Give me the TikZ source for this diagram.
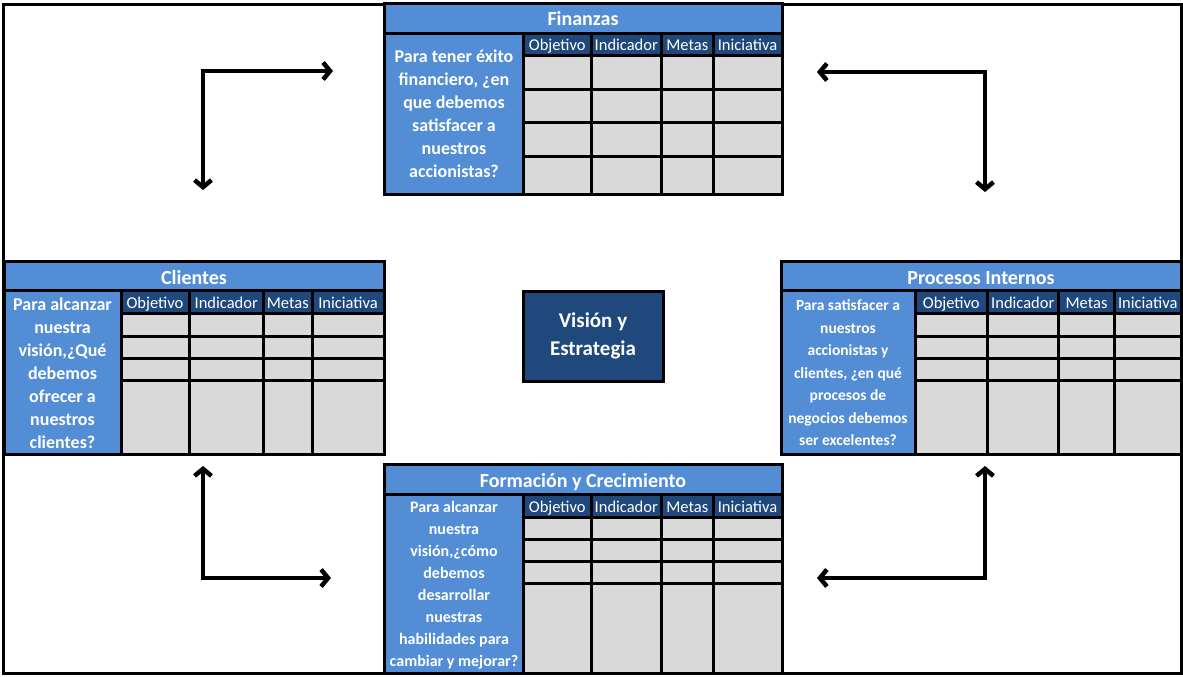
\documentclass[tikz,border=0pt]{standalone}
\usepackage{fontspec}
\setmainfont{Carlito}
\usetikzlibrary{arrows.meta,positioning}

\definecolor{panelblue}{RGB}{83,141,213}
\definecolor{headblue}{RGB}{31,73,125}
\definecolor{cellgray}{RGB}{217,217,217}

% black back of a panel, and one coloured cell inside it
\newcommand{\panelback}[4]{\fill ([shift={(-1.5,-1.5)}]#1,#2) rectangle ([shift={(1.5,1.5)}]#3,#4);}
\newcommand{\cellbox}[5]{\fill[#1] ([shift={(1.5,1.5)}]#2,#3) rectangle ([shift={(-1.5,-1.5)}]#4,#5);}

\begin{document}
\begin{tikzpicture}[x=1pt,y=-1pt]
\tikzset{
     titletext/.style={text=white, inner sep=0pt, text height=14pt, text depth=4pt, font=\bfseries\fontsize{20}{24}\selectfont},
     asktext/.style 2 args={text=white, align=center, inner sep=0pt, font=\bfseries\fontsize{#1}{#2}\selectfont},
     headtext/.style={text=white, inner sep=0pt, text height=11.5pt, text depth=3.5pt, font=\fontsize{16.5}{20}\selectfont},
     flow/.style={line width=4.5pt, line join=miter,
        {Straight Barb[length=7pt,width=17pt]}-{Straight Barb[length=7pt,width=17pt]}}}
\useasboundingbox (0,0) rectangle (1183,677);

% The frame
\draw [line width=3pt] (3.5,4.5) rectangle (1181.5,673.5);

% Finanzas
\panelback{384}{4}{782}{194}
\cellbox{panelblue}{384}{4}{782}{33.5}
\node (finanzas) [titletext] at (583,21) {Finanzas};
\cellbox{panelblue}{384}{33.5}{523.5}{194}
\node (fin ask) [asktext={18}{23}] at (454,114) {Para tener éxito\\financiero, ¿en\\que debemos\\satisfacer a\\nuestros\\accionistas?};
\foreach \xa/\xb/\lab [count=\i] in {523.5/591/Objetivo, 591/661.5/Indicador, 661.5/713/Metas, 713/782/Iniciativa}{
  \cellbox{headblue}{\xa}{33.5}{\xb}{56}
  \node (fin head \i) [headtext] at ({(\xa+\xb)/2},47) {\lab};
  \foreach \ya/\yb in {56/89, 89/122.5, 122.5/156, 156/194}{\cellbox{cellgray}{\xa}{\ya}{\xb}{\yb}}
}

% Clientes
\panelback{4}{261}{384}{454}
\cellbox{panelblue}{4}{261}{384}{290}
\node (clientes) [titletext] at (194,279) {Clientes};
\cellbox{panelblue}{4}{290}{121}{454}
\node (cli ask) [asktext={18}{23}] at (62.5,373) {Para alcanzar\\nuestra\\visión,¿Qué\\debemos\\ofrecer a\\nuestros\\clientes?};
\foreach \xa/\xb/\lab [count=\i] in {121/189/Objetivo, 189/263.5/Indicador, 263.5/312/Metas, 312/384/Iniciativa}{
  \cellbox{headblue}{\xa}{290}{\xb}{313.5}
  \node (cli head \i) [headtext] at ({(\xa+\xb)/2},304) {\lab};
  \foreach \ya/\yb in {313.5/336, 336/358.5, 358.5/380.5, 380.5/454}{\cellbox{cellgray}{\xa}{\ya}{\xb}{\yb}}
}

% Procesos Internos
\panelback{781}{261}{1181}{454}
\cellbox{panelblue}{781}{261}{1181}{290}
\node (procesos) [titletext] at (981,279) {Procesos Internos};
\cellbox{panelblue}{781}{290}{915.5}{454}
\node (pro ask) [asktext={15.5}{22.5}] at (848,373) {Para satisfacer a\\nuestros\\accionistas y\\clientes, ¿en qué\\procesos de\\negocios debemos\\ser excelentes?};
\foreach \xa/\xb/\lab [count=\i] in {915.5/987/Objetivo, 987/1058.5/Indicador, 1058.5/1114.5/Metas, 1114.5/1181/Iniciativa}{
  \cellbox{headblue}{\xa}{290}{\xb}{313.5}
  \node (pro head \i) [headtext] at ({(\xa+\xb)/2},304) {\lab};
  \foreach \ya/\yb in {313.5/336, 336/358.5, 358.5/380.5, 380.5/454}{\cellbox{cellgray}{\xa}{\ya}{\xb}{\yb}}
}

% Formacion y Crecimiento
\panelback{384}{464}{782}{673}
\cellbox{panelblue}{384}{464}{782}{494}
\node (formacion) [titletext] at (583,482) {Formación y Crecimiento};
\cellbox{panelblue}{384}{494}{523.5}{673}
\node (for ask) [asktext={16}{22}] at (454,585) {Para alcanzar\\nuestra\\visión,¿cómo\\debemos\\desarrollar\\nuestras\\habilidades para\\cambiar y mejorar?};
\foreach \xa/\xb/\lab [count=\i] in {523.5/591/Objetivo, 591/661.5/Indicador, 661.5/713/Metas, 713/782/Iniciativa}{
  \cellbox{headblue}{\xa}{494}{\xb}{517}
  \node (for head \i) [headtext] at ({(\xa+\xb)/2},508) {\lab};
  \foreach \ya/\yb in {517/539.5, 539.5/561.5, 561.5/583.5, 583.5/673}{\cellbox{cellgray}{\xa}{\ya}{\xb}{\yb}}
}

% Vision in the middle
\node (vision) [draw, line width=3pt, fill=headblue, minimum width=140, minimum height=90,
   text=white, align=center, font=\bfseries\fontsize{21}{28}\selectfont] at (593,336) {Visión y\\Estrategia};

% The arrows
\coordinate (tl corner) at (203,71);
\coordinate (tl right) at (333,71);
\coordinate (tl down) at (203,190);
\coordinate (tr corner) at (985,72);
\coordinate (tr left) at (817,72);
\coordinate (tr down) at (985,192);
\coordinate (bl corner) at (203,578);
\coordinate (bl up) at (203,466);
\coordinate (bl right) at (331,578);
\coordinate (br corner) at (985,578);
\coordinate (br up) at (985,466);
\coordinate (br left) at (817,578);

\draw [flow] (tl down) -- (tl corner) -- (tl right);
\draw [flow] (tr down) -- (tr corner) -- (tr left);
\draw [flow] (bl up) -- (bl corner) -- (bl right);
\draw [flow] (br up) -- (br corner) -- (br left);
\end{tikzpicture}
\end{document}
